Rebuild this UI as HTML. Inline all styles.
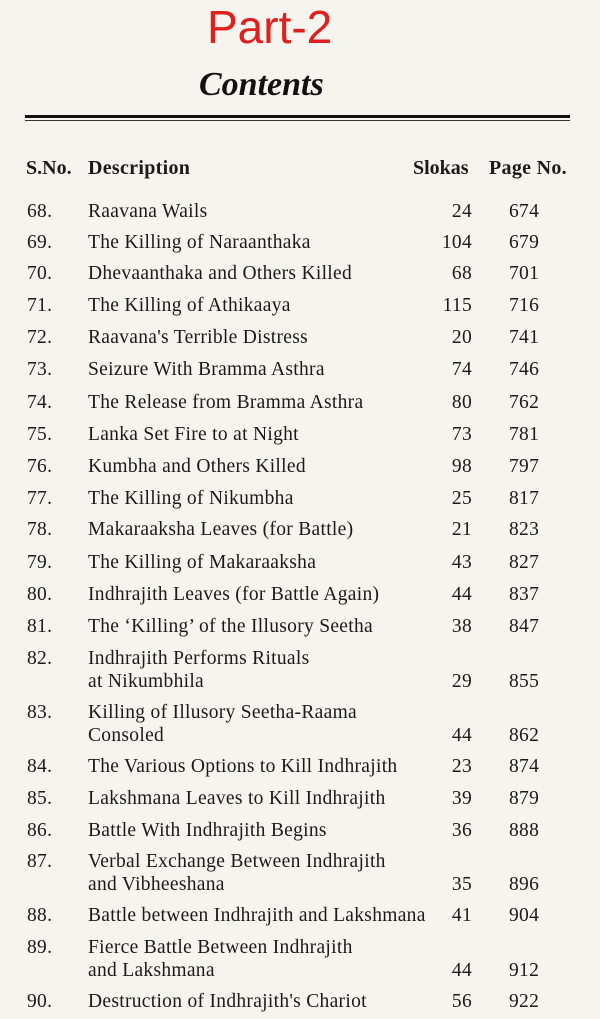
<!DOCTYPE html>
<html><head><meta charset="utf-8"><style>
body{margin:0;width:600px;height:1019px;background:#f6f4ee;position:relative;overflow:hidden;font-family:"Liberation Serif",serif;color:#1a1a1a}
.a{position:absolute;white-space:nowrap;line-height:1}
.t{font-size:19.5px;letter-spacing:0.3px}
.n{left:27px}.d{left:88px}.s{right:128px;text-align:right}.p{left:509px}
</style></head><body>
<div class="a" style="left:207px;top:4px;font-family:'Liberation Sans',sans-serif;font-size:46px;color:#e0201e">Part-2</div>
<div class="a" style="left:199px;top:68px;font-size:34px;font-style:italic;font-weight:bold;color:#111">Contents</div>
<div class="a" style="left:25px;top:115px;width:545px;height:3px;background:#111"></div>
<div class="a" style="left:25px;top:120px;width:545px;height:1px;background:#333"></div>
<div class="a" style="left:26px;top:158px;font-weight:bold;font-size:20px">S.No.</div>
<div class="a" style="left:88px;top:158px;font-weight:bold;font-size:20px;letter-spacing:0.3px">Description</div>
<div class="a" style="left:413px;top:158px;font-weight:bold;font-size:20px">Slokas</div>
<div class="a" style="left:489px;top:158px;font-weight:bold;font-size:20px;letter-spacing:0.3px">Page No.</div>
<div id="rows"></div>
<script>
var R=[[68,["Raavana Wails"],24,674,202],[69,["The Killing of Naraanthaka"],104,679,233],[70,["Dhevaanthaka and Others Killed"],68,701,264],[71,["The Killing of Athikaaya"],115,716,296],[72,["Raavana's Terrible Distress"],20,741,328],[73,["Seizure With Bramma Asthra"],74,746,360],[74,["The Release from Bramma Asthra"],80,762,393],[75,["Lanka Set Fire to at Night"],73,781,425],[76,["Kumbha and Others Killed"],98,797,457],[77,["The Killing of Nikumbha"],25,817,489],[78,["Makaraaksha Leaves (for Battle)"],21,823,520],[79,["The Killing of Makaraaksha"],43,827,553],[80,["Indhrajith Leaves (for Battle Again)"],44,837,585],[81,["The \u2018Killing\u2019 of the Illusory Seetha"],38,847,617],[82,["Indhrajith Performs Rituals","at Nikumbhila"],29,855,649],[83,["Killing of Illusory Seetha-Raama","Consoled"],44,862,703],[84,["The Various Options to Kill Indhrajith"],23,874,757],[85,["Lakshmana Leaves to Kill Indhrajith"],39,879,789],[86,["Battle With Indhrajith Begins"],36,888,821],[87,["Verbal Exchange Between Indhrajith","and Vibheeshana"],35,896,852],[88,["Battle between Indhrajith and Lakshmana"],41,904,906],[89,["Fierce Battle Between Indhrajith","and Lakshmana"],44,912,938],[90,["Destruction of Indhrajith's Chariot"],56,922,992]];
var h="";R.forEach(function(r){var y=r[4],ly=y+(r[1].length-1)*23;
h+='<div class="a t n" style="top:'+y+'px">'+r[0]+'.</div>';
r[1].forEach(function(l,i){h+='<div class="a t d" style="top:'+(y+i*23)+'px">'+l+'</div>';});
h+='<div class="a t s" style="top:'+ly+'px">'+r[2]+'</div><div class="a t p" style="top:'+ly+'px">'+r[3]+'</div>';});
document.getElementById("rows").innerHTML=h;
</script>
</body></html>
